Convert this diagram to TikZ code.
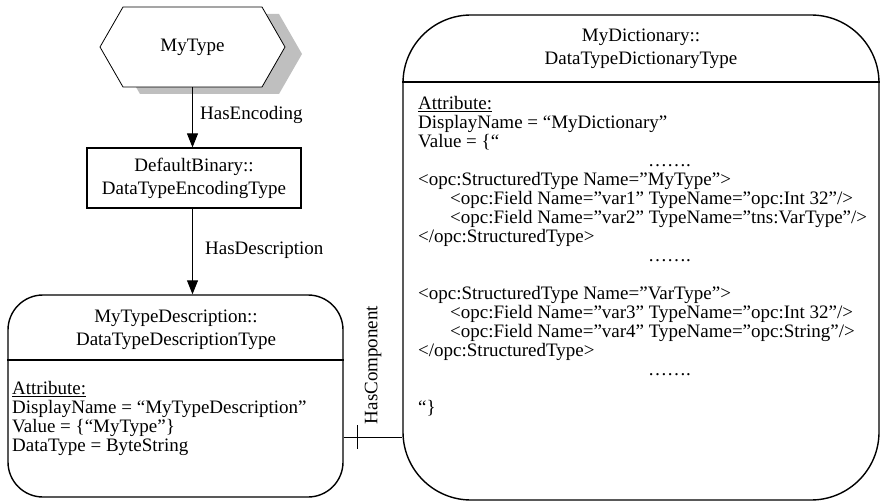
\documentclass[tikz,border=0pt]{standalone}
\usepackage{fontspec}
\setmainfont{Liberation Serif}
\usetikzlibrary{arrows.meta,calc}
\definecolor{shadowgray}{HTML}{BFBFBF}
\newcommand{\fieldindent}{\hspace*{32pt}}
\newcommand{\moredots}{\hspace*{230pt}…….}
\begin{document}
\begin{tikzpicture}[x=1pt,y=-1pt,
  txt/.style={font=\fontsize{19}{19}\selectfont, inner sep=0pt},
  title/.style={font=\fontsize{19}{23}\selectfont, align=center, inner sep=0pt},
  body/.style={font=\fontsize{19}{19}\selectfont, align=left, inner sep=0pt, anchor=north west},
  boxline/.style={draw=black, line width=1.4pt},
  conn/.style={draw=black, line width=1pt},
  arr/.style={conn, -{Triangle[length=14pt,width=11pt]}}
]
\useasboundingbox (0,0) rectangle (880,502);

% hexagon with its drop shadow
\fill[shadowgray] (117,54) -- (140,14) -- (279,14) -- (302,54) -- (279,94) -- (140,94) -- cycle;
\draw[line width=0.8pt, fill=white] (100,47) -- (123,7) -- (262,7) -- (285,47) -- (262,87) -- (123,87) -- cycle;
\node[txt, minimum width=185pt, minimum height=80pt] (mytype) at (192.5,47) {MyType};

% encoding object
\node[title, draw=black, line width=1.2pt, minimum width=214pt, minimum height=60pt] (binary) at (194,178) {DefaultBinary::\\DataTypeEncodingType};

% description object
\node[boxline, minimum width=335pt, minimum height=202pt, rounded corners=35pt] (desc) at (175.5,396) {};
\draw[boxline] (desc.west |- 0,360) -- (desc.east |- 0,360);
\node[title] (desctitle) at (176,329.5) {MyTypeDescription::\\DataTypeDescriptionType};
\node[body] (descbody) at (12,381) {\underline{Attribute:}\\DisplayName = “MyTypeDescription”\\Value = \{“MyType”\}\\DataType = ByteString};

% dictionary object
\node[boxline, minimum width=476pt, minimum height=485pt, rounded corners=68pt] (dict) at (641,257.5) {};
\draw[boxline] (dict.west |- 0,82) -- (dict.east |- 0,82);
\node[title] (dicttitle) at (641,48.5) {MyDictionary::\\DataTypeDictionaryType};
\node[body] (dictbody) at (418,96) {\underline{Attribute:}\\
DisplayName = “MyDictionary”\\
Value = \{“\\
\moredots\\
<opc:StructuredType Name=”MyType”>\\
\fieldindent<opc:Field Name=”var1” TypeName=”opc:Int 32”/>\\
\fieldindent<opc:Field Name=”var2” TypeName=”tns:VarType”/>\\
</opc:StructuredType>\\
\moredots\\[19pt]
<opc:StructuredType Name=”VarType”>\\
\fieldindent<opc:Field Name=”var3” TypeName=”opc:Int 32”/>\\
\fieldindent<opc:Field Name=”var4” TypeName=”opc:String”/>\\
</opc:StructuredType>\\
\moredots\\[19pt]
“\}};

% references
\draw[arr] (mytype.south) -- (mytype.south |- binary.north);
\node[txt, anchor=west] (enclabel) at (200,115) {HasEncoding};
\draw[arr] (binary.south -| mytype.south) -- (mytype.south |- desc.north);
\node[txt, anchor=west] (desclabel) at (205,250) {HasDescription};

\coordinate (hc) at (0,437);
\draw[conn] (desc.east |- hc) -- (dict.west |- hc);
\draw[conn] ($(desc.east |- hc)+(14,-12)$) -- ++(0,24);
\node[txt, rotate=90] (hclabel) at (373,365) {HasComponent};
\end{tikzpicture}
\end{document}
